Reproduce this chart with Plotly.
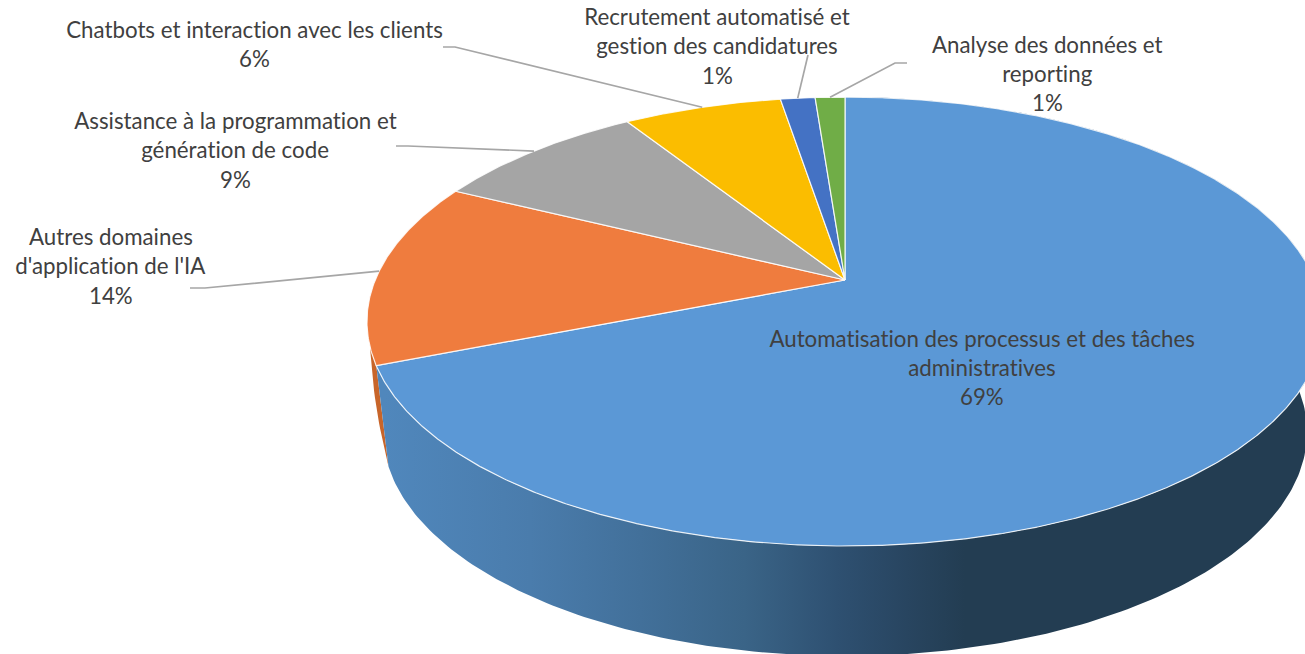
import numpy as np
import plotly.graph_objects as go

# ---- data (clockwise from 12 o'clock) ----
categories = [
    "Automatisation des processus et des tâches administratives",
    "Autres domaines d'application de l'IA",
    "Assistance à la programmation et génération de code",
    "Chatbots et interaction avec les clients",
    "Recrutement automatisé et gestion des candidatures",
    "Analyse des données et reporting",
]
values = [69.0, 13.3, 8.7, 6.4, 1.4, 1.2]
percent_labels = ["69%", "14%", "9%", "6%", "1%", "1%"]
label_lines = [
    ["Automatisation des processus et des tâches", "administratives"],
    ["Autres domaines", "d'application de l'IA"],
    ["Assistance à la programmation et", "génération de code"],
    ["Chatbots et interaction avec les clients"],
    ["Recrutement automatisé et", "gestion des candidatures"],
    ["Analyse des données et", "reporting"],
]

# ---- styles and layout ----
W, H = 1305, 654
top_colors = ["#5B98D6", "#EF7C3E", "#A5A5A5", "#FBBD00", "#4472C4", "#70AD47"]
TEXT = "#404040"
FONT = "Lato"
FONT_SIZE = 22.3
LINE_STEP = 29.4
label_pos = [(982, 338), (111, 236.5), (235, 120.5), (254, 29.5), (717, 16.3), (1047, 44)]
elbows = [None, [(190, 288), (205, 288)], [(396, 146), (408, 146)],
          [(443, 47), (455, 47)], [(808, 55)], [(907, 63), (895, 63)]]

# perspective projection of the pie disc
CX, CY = 845.0, 280.0      # projected centre of the pie
A, B, C = 469.8, 216.8, 0.185
ELL_CY = 321.5             # centre of projected rim ellipse
RX_TOP, RX_BOT = 478.0, 462.0
RY_TOP, RY_BOT = 224.5, 224.0
BOT_CY = 432.0
WALL_OVERRUN = 0.04        # lower rim of the blue wall runs a little past the slice edge
SLIVER_SPAN = 0.08
SLIVER_BULGE = 3.0


def rim(theta):
    theta = np.asarray(theta, dtype=float)
    d = 1 + C * np.cos(theta)
    return CX + A * np.sin(theta) / d, CY - B * np.cos(theta) / d


def lower(theta):
    x, y = rim(theta)
    return CX + (x - CX) * RX_BOT / RX_TOP, BOT_CY + (y - ELL_CY) * RY_BOT / RY_TOP


fractions = np.array(values) / sum(values)
edges = np.concatenate([[0], np.cumsum(fractions)]) * 2 * np.pi
fig = go.Figure()

# orange side wall: thin sliver left of the blue wall
t_sl = np.linspace(edges[1], edges[1] + SLIVER_SPAN, 20)
xs, ys = rim(t_sl)
xc, yc = lower(edges[1] + WALL_OVERRUN)
s = np.linspace(0, 1, 20)
xe = xs[-1] + (xc - xs[-1]) * s - SLIVER_BULGE * np.sin(np.pi * s)
ye = ys[-1] + (yc - ys[-1]) * s
fig.add_trace(go.Scatter(x=np.r_[xs, xe, xs[0]], y=np.r_[ys, ye, ys[0]], mode="lines",
                         fill="toself", fillcolor="#C8652A", line=dict(width=0),
                         hoverinfo="skip", showlegend=False))

# blue side wall with horizontal shading
t = np.linspace(edges[0], edges[1], 300)
xt, yt = rim(t)
xb, yb = lower(np.linspace(edges[1] + WALL_OVERRUN, edges[0], 300))
fig.add_trace(go.Scatter(
    x=np.r_[xt, xb, xt[0]], y=np.r_[yt, yb, yt[0]], mode="lines", fill="toself",
    line=dict(width=0), hoverinfo="skip", showlegend=False,
    fillgradient=dict(type="horizontal", start=385, stop=965, colorscale=[
        [0.00, "#5087BC"], [0.25, "#4A7CAC"], [0.44, "#42709A"], [0.62, "#3A6487"],
        [0.78, "#2E5071"], [0.90, "#284560"], [1.00, "#233D52"]])))

# top faces
for i, name in enumerate(categories):
    t = np.linspace(edges[i], edges[i + 1], max(int(values[i] * 12), 12))
    x, y = rim(t)
    fig.add_trace(go.Scatter(x=np.r_[CX, x, CX], y=np.r_[CY, y, CY], mode="lines", name=name,
                             fill="toself", fillcolor=top_colors[i],
                             line=dict(color="rgba(255,255,255,0.85)", width=1.2),
                             hoverinfo="skip", showlegend=False))

# leader lines from the middle of each slice's rim to its label
for i, elbow in enumerate(elbows):
    if elbow is None:
        continue
    mx, my = rim((edges[i] + edges[i + 1]) / 2)
    lx_ = [p[0] for p in elbow] + [float(mx)]
    ly_ = [p[1] for p in elbow] + [float(my)]
    fig.add_trace(go.Scatter(x=lx_, y=ly_, mode="lines", line=dict(color="#A6A6A6", width=1.7),
                             hoverinfo="skip", showlegend=False))

# labels: one annotation per line so the line spacing follows the reference
annotations = []
for lines, pct, (lx, ly) in zip(label_lines, percent_labels, label_pos):
    for k, txt in enumerate(lines + [pct]):
        annotations.append(dict(x=lx, y=ly + k * LINE_STEP, text=txt, showarrow=False,
                                xref="x", yref="y", xanchor="center", yanchor="middle",
                                font=dict(family=FONT, size=FONT_SIZE, color=TEXT)))

fig.update_layout(
    width=W, height=H, margin=dict(l=0, r=0, t=0, b=0), showlegend=False,
    paper_bgcolor="white", plot_bgcolor="white", annotations=annotations,
    xaxis=dict(range=[0, W], visible=False, fixedrange=True),
    yaxis=dict(range=[H, 0], visible=False, fixedrange=True),
)
post = """
document.body.style.margin='0';document.body.style.overflow='hidden';
var s=document.createElement('style');
s.textContent='svg text{font-variant-ligatures:none;font-feature-settings:"liga" 0,"clig" 0;}';
document.head.appendChild(s);
"""
fig.write_html("out.html", config={"displayModeBar": False}, post_script=post)
